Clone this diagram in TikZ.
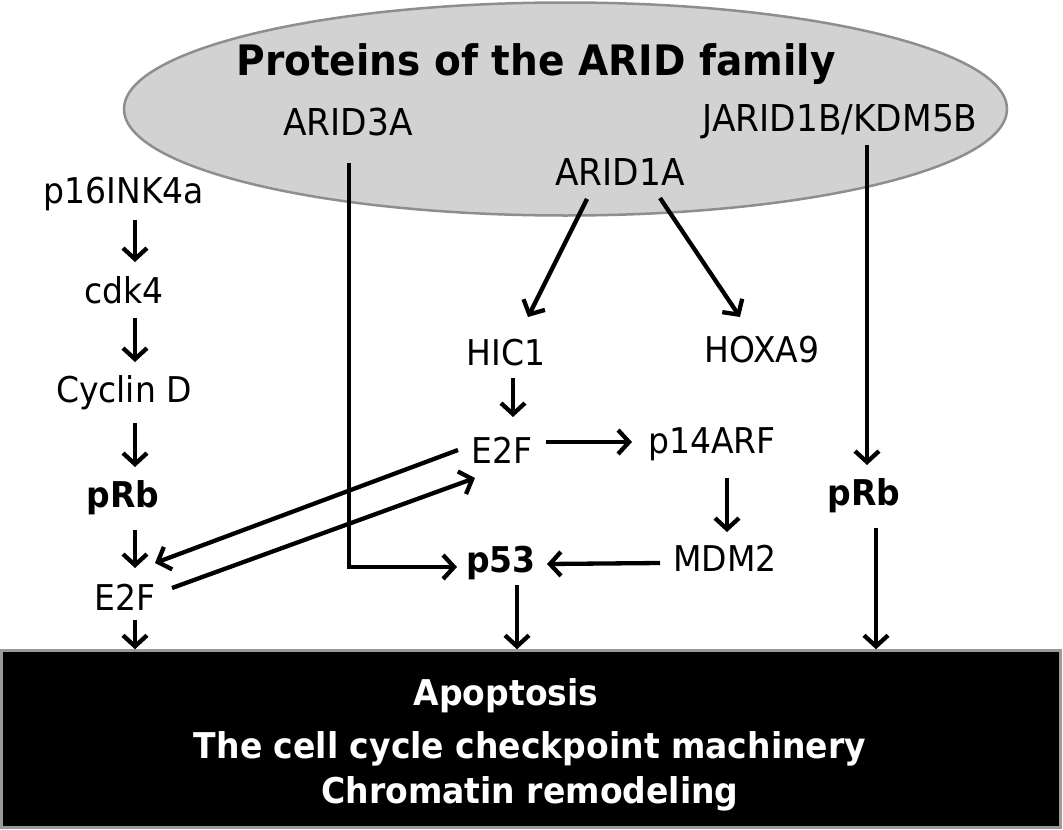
\documentclass[tikz,border=0pt]{standalone}
\usepackage{fontspec}
\setmainfont{DejaVu Sans}[FakeStretch=0.93]
\usetikzlibrary{arrows.meta,calc,shapes.geometric}
\begin{document}
\begin{tikzpicture}[x=1pt,y=-1pt,
  lbl/.style={anchor=base, inner sep=0pt, font=\fontsize{35.5}{40}\selectfont},
  blbl/.style={anchor=base, inner sep=0pt, font=\fontsize{35.5}{40}\selectfont\bfseries},
  elbl/.style={anchor=base, inner sep=0pt, font=\fontsize{37}{42}\selectfont},
  wlbl/.style={anchor=base, inner sep=0pt, text=white, font=\fontsize{35.5}{40}\selectfont\bfseries},
  arr/.style={line width=4.3pt, -{Straight Barb[length=11pt,width=24pt]}},
  fambox/.style={ellipse, draw=famborder, fill=famfill, line width=2.5pt, inner sep=0pt},
  outbox/.style={rectangle, draw=boxborder, fill=black, line width=2.5pt, inner sep=0pt}
]
\definecolor{famfill}{HTML}{D2D2D2}
\definecolor{famborder}{HTML}{8E8E8E}
\definecolor{boxborder}{HTML}{9A9A9A}
\useasboundingbox (0,0) rectangle (1063,830);
\fill[white] (0,0) rectangle (1063,830);

% family ellipse
\node[fambox, minimum width=883pt, minimum height=213pt] (fam) at (565.5,109) {};
\node[anchor=base, inner sep=0pt, font=\fontsize{42}{48}\selectfont\bfseries] (title) at (536,75) {Proteins of the ARID family};
\node[elbl] (a3) at (348,135) {ARID3A};
\node[elbl] (jarid) at (840,131) {JARID1B/KDM5B};
\node[elbl] (a1) at (620,185) {ARID1A};

% outcome box
\node[outbox, minimum width=1059pt, minimum height=177pt] (box) at (531,739) {};
\node[wlbl] (apo) at (506,705) {Apoptosis};
\node[wlbl] (cyc2) at (530,758) {The cell cycle checkpoint machinery};
\node[wlbl] (chrom) at (530,803) {Chromatin remodeling};

% left column
\node[lbl] (p16) at (124,203) {p16INK4a};
\node[lbl] (cdk) at (124,303) {cdk4};
\node[lbl] (cycd) at (124,402) {Cyclin D};
\node[blbl] (prbL) at (123,507) {pRb};
\node[lbl] (e2fL) at (125,610) {E2F};

% middle
\node[lbl] (hic) at (506,365) {HIC1};
\node[lbl] (hox) at (762,362) {HOXA9};
\node[lbl] (e2fM) at (502,463) {E2F};
\node[lbl] (p14) at (712,453) {p14ARF};
\node[blbl] (p53) at (501,572) {p53};
\node[lbl] (mdm) at (725,571) {MDM2};
\node[blbl] (prbR) at (864,505) {pRb};

% left column arrows
\draw[arr] ([shift={(11,17)}]p16.base) -- ([shift={(11,-41)}]cdk.base);
\draw[arr] ([shift={(11,15)}]cdk.base) -- ([shift={(11,-40)}]cycd.base);
\draw[arr] ([shift={(11,21)}]cycd.base) -- ([shift={(12,-40)}]prbL.base);
\draw[arr] ([shift={(12,23)}]prbL.base) -- ([shift={(10,-42)}]e2fL.base);
\draw[arr] ([shift={(10,10)}]e2fL.base) -- ([xshift=10pt]e2fL.base |- box.north);

% ARID3A to p53
\draw[arr] ([shift={(1,28)}]a3.base) |- ([shift={(-44,-5)}]p53.base);
% JARID1B to pRb
\draw[arr] ([shift={(27,14)}]jarid.base) -- ([shift={(3,-40)}]prbR.base);
\draw[arr] ([shift={(12,23)}]prbR.base) -- ([xshift=12pt]prbR.base |- box.north);
% ARID1A
\draw[arr] ([shift={(-33,14)}]a1.base) -- ([shift={(22,-48)}]hic.base);
\draw[arr] ([shift={(40,13)}]a1.base) -- ([shift={(-22,-45)}]hox.base);
% middle chain
\draw[arr] ([shift={(7,13)}]hic.base) -- ([shift={(11,-46)}]e2fM.base);
\draw[arr] ([shift={(44,-21)}]e2fM.base) -- ([shift={(-80,-11)}]p14.base);
\draw[arr] ([shift={(15,25)}]p14.base) -- ([shift={(2,-39)}]mdm.base);
\draw[arr] ([shift={(-65,-8)}]mdm.base) -- ([shift={(46,-8)}]p53.base);
\draw[arr] ([shift={(16,13)}]p53.base) -- ([xshift=16pt]p53.base |- box.north);
% E2F crossings
\draw[arr] ([shift={(-44,-13)}]e2fM.base) -- ([shift={(30,-47)}]e2fL.base);
\draw[arr] ([shift={(47,-22)}]e2fL.base) -- ([shift={(-27,15)}]e2fM.base);
\end{tikzpicture}
\end{document}
